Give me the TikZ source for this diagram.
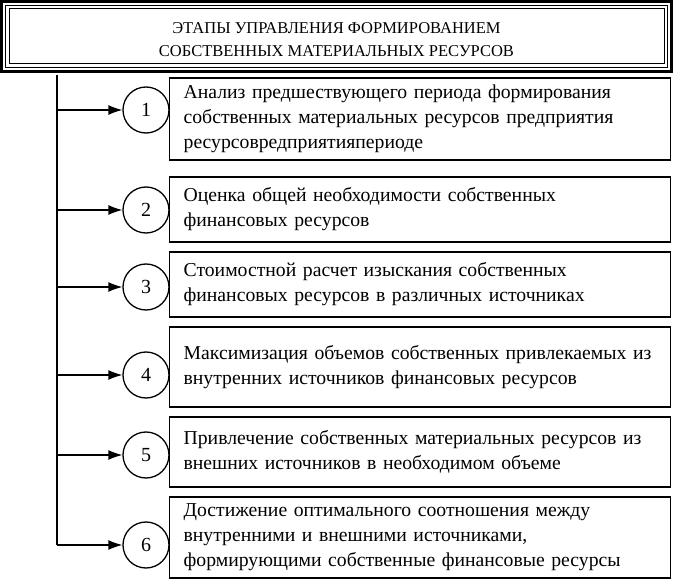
\documentclass[tikz,border=0pt]{standalone}
\usepackage{fontspec}
\setmainfont{Liberation Serif}
\usetikzlibrary{arrows.meta}

\begin{document}
\begin{tikzpicture}[x=1pt,y=-1pt,
    stagebox/.style={draw,line width=1.3pt,anchor=west,minimum width=501pt,
      text width=473pt,inner xsep=14pt,inner ysep=0pt,align=left,
      font=\fontsize{19.7}{25}\selectfont},
    numcirc/.style={draw,circle,line width=1.3pt,minimum size=46pt,inner sep=0pt,
      font=\fontsize{20}{24}\selectfont},
    link/.style={line width=1.3pt,-{Latex[length=14pt,width=10pt]}}]
  \useasboundingbox (0,0) rectangle (673,583);

  % title with a triple frame
  \coordinate (fnw) at (9,9);
  \coordinate (fse) at (664,64);
  \draw[line width=1pt] (fnw) rectangle (fse);
  \draw[line width=1.5pt] ([shift={(-3.5,-3.5)}]fnw) rectangle ([shift={(3.5,3.5)}]fse);
  \draw[line width=3pt] ([shift={(-7.5,-7.5)}]fnw) rectangle ([shift={(7.5,7.5)}]fse);
  \node[align=center,font=\fontsize{16.5}{23}\selectfont] (title) at (336.5,40)
    {ЭТАПЫ УПРАВЛЕНИЯ ФОРМИРОВАНИЕМ\\СОБСТВЕННЫХ МАТЕРИАЛЬНЫХ РЕСУРСОВ};

  % stages
  \node[stagebox,minimum height=82pt] (s1) at (169,119)
    {Анализ предшествующего периода формирования\\
     собственных материальных ресурсов предприятия\\
     ресурсовредприятияпериоде};
  \node[stagebox,minimum height=65pt] (s2) at (169,209.5)
    {Оценка общей необходимости собственных\\
     финансовых ресурсов};
  \node[stagebox,minimum height=65pt] (s3) at (169,284.5)
    {Стоимостной расчет изыскания собственных\\
     финансовых ресурсов в различных источниках};
  \node[stagebox,minimum height=80pt] (s4) at (169,367)
    {Максимизация объемов собственных привлекаемых из\\
     внутренних источников финансовых ресурсов};
  \node[stagebox,minimum height=70pt] (s5) at (169,452)
    {Привлечение собственных материальных ресурсов из\\
     внешних источников в необходимом объеме};
  \node[stagebox,minimum height=81pt] (s6) at (169,537.5)
    {Достижение оптимального соотношения между\\
     внутренними и внешними источниками,\\
     формирующими собственные финансовые ресурсы};

  % numbers and arrows from the left line
  \coordinate (top) at (57,75);
  \foreach \n/\y in {1/110,2/210,3/287,4/375,5/455,6/545}{
    \node[numcirc] (c\n) at (146,\y) {\n};
    \coordinate (t\n) at (57,\y);
    \draw[link] (t\n) -- (c\n);
  }
  \draw[line width=1.3pt] (top) -- (t6);
\end{tikzpicture}
\end{document}
